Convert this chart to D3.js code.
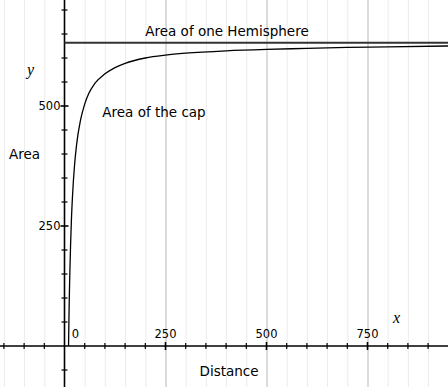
<!DOCTYPE html>
<html><head><meta charset="utf-8">
<script src="https://cdn.jsdelivr.net/npm/d3@7"></script>
<style>body{margin:0;background:#fff}svg{display:block}text{font-family:"DejaVu Sans",sans-serif;fill:#000}</style>
</head><body><svg id="c" width="448" height="387"></svg>
<script>
// Data
const distance = [10,11,12,13,15,17,20,25,30,40,50,60,75,100,125,150,200,250,300,400,500,600,700,800,950];
const capArea  = [0,57,105,145,209,260,315,378,420,472,504,526,547,567,580,589,600,606,610,615,618,620,622,623,625];
const hemisphereArea = 632;
const xTickLabels = [0,250,500,750];
const yTickLabels = [250,500];

const W = 448, H = 387;
const svg = d3.select("#c");
const x = d3.scaleLinear().domain([0,250]).range([64.5,165.5]);
const y = d3.scaleLinear().domain([0,500]).range([346,106]);
const xMin = x.invert(0), xMax = x.invert(W), yMin = y.invert(H), yMax = y.invert(0);

// vertical grid lines every 50
const gridX = d3.range(Math.ceil(xMin/50)*50, xMax, 50).filter(v => v !== 0);
svg.append("g").selectAll("line").data(gridX).join("line")
  .attr("x1", d => x(d)+0.5).attr("x2", d => x(d)+0.5)
  .attr("y1", 0).attr("y2", H)
  .attr("stroke", d => d % 250 === 0 ? "#cfcfcf" : "#ececec")
  .attr("stroke-width", d => d % 250 === 0 ? 1.5 : 1);

// axes lines
svg.append("line").attr("x1",0).attr("x2",W).attr("y1",y(0)).attr("y2",y(0)).attr("stroke","#000").attr("stroke-width",1.6);
svg.append("line").attr("x1",x(0)).attr("x2",x(0)).attr("y1",0).attr("y2",H).attr("stroke","#000").attr("stroke-width",1.6);

// x ticks
const xt = d3.range(Math.ceil(xMin/50)*50, xMax, 50).filter(v => v !== 0);
svg.append("g").selectAll("line").data(xt).join("line")
  .attr("x1", d => x(d)).attr("x2", d => x(d))
  .attr("y1", d => y(0) - (d%250===0?4:3)).attr("y2", d => y(0) + (d%250===0?4:3))
  .attr("stroke","#000").attr("stroke-width", d => d%250===0?1.6:1.2);
// y ticks
const yt = d3.range(Math.ceil(yMin/50)*50, yMax, 50).filter(v => v !== 0);
svg.append("g").selectAll("line").data(yt).join("line")
  .attr("y1", d => y(d)).attr("y2", d => y(d))
  .attr("x1", d => x(0) - (d%250===0?4:3)).attr("x2", d => x(0) + (d%250===0?4:3))
  .attr("stroke","#000").attr("stroke-width", d => d%250===0?1.6:1.2);

// tick labels
svg.append("g").selectAll("text").data(xTickLabels).join("text")
  .attr("x", d => d===0 ? x(0)+11 : x(d)).attr("y", y(0)-8)
  .attr("text-anchor","middle").attr("font-size",11.5).text(d => d);
svg.append("g").selectAll("text").data(yTickLabels).join("text")
  .attr("x", x(0)-4).attr("y", d => y(d)+4)
  .attr("text-anchor","end").attr("font-size",11.5).text(d => d);

// hemisphere line
svg.append("line").attr("x1",x(0)).attr("x2",W).attr("y1",y(hemisphereArea)).attr("y2",y(hemisphereArea))
  .attr("stroke","#333").attr("stroke-width",2);

// cap curve
const pts = distance.map((d,i)=>[d,capArea[i]]);
svg.append("path").datum(pts)
  .attr("d", d3.line().x(d=>x(d[0])).y(d=>y(d[1])).curve(d3.curveMonotoneX))
  .attr("fill","none").attr("stroke","#000").attr("stroke-width",1.3);

// labels
svg.append("text").attr("x",227).attr("y",36).attr("text-anchor","middle").attr("font-size",13.5).text("Area of one Hemisphere");
svg.append("text").attr("x",154).attr("y",117).attr("text-anchor","middle").attr("font-size",13.5).text("Area of the cap");
svg.append("text").attr("x",9).attr("y",159).attr("font-size",13.5).text("Area");
svg.append("text").attr("x",229).attr("y",376).attr("text-anchor","middle").attr("font-size",13.5).text("Distance");
svg.append("text").attr("x",27).attr("y",75).attr("font-size",16).attr("font-style","italic").style("font-family","'Liberation Serif',serif").text("y");
svg.append("text").attr("x",393).attr("y",323).attr("font-size",16).attr("font-style","italic").style("font-family","'Liberation Serif',serif").text("x");
</script></body></html>
